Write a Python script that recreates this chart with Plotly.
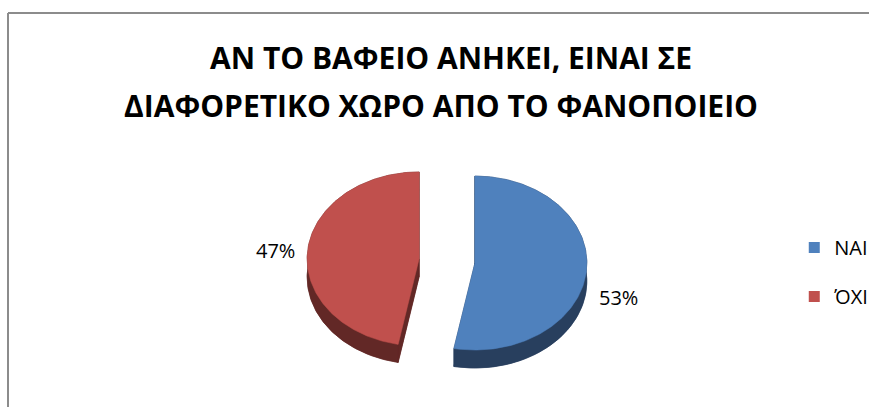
import numpy as np
import plotly.graph_objects as go

# ---- data ----
categories = ["ΝΑΙ", "ΌΧΙ"]
values = [53, 47]
percent_labels = ["53%", "47%"]
title_lines = ["ΑΝ ΤΟ ΒΑΦΕΙΟ ΑΝΗΚΕΙ, ΕΙΝΑΙ ΣΕ", "ΔΙΑΦΟΡΕΤΙΚΟ ΧΩΡΟ ΑΠΟ ΤΟ ΦΑΝΟΠΟΙΕΙΟ"]

# ---- styling ----
face_colors = ["#4F81BD", "#C0504D"]
wall_colors = ["#283F5E", "#622826"]
W, H = 869, 407
FONT = "Open Sans"

# ---- 3D pie geometry (axis units == pixels) ----
cx, cy = 447.0, 261.0      # pie centre
rx, ry = 112.0, 87.0       # ellipse radii of the top face
depth = 18.0               # extrusion height
explode = 28.0             # pull-out distance of each slice
label_rx, label_ry, label_dy = 144.0, 230.0, 13.0


def ell(theta, ox, oy):
    # theta in radians, clockwise from 12 o'clock; y grows downwards
    return ox + rx * np.sin(theta), oy - ry * np.cos(theta)


def poly(xs, ys, color, name=None, legend=False):
    return go.Scatter(x=list(xs), y=list(ys), mode="lines", fill="toself",
                      fillcolor=color, line=dict(color=color, width=0.5),
                      name=name, hoverinfo="skip" if name is None else "name",
                      showlegend=legend)


fig = go.Figure()

total = float(sum(values))
start = 0.0
slices = []
for i, v in enumerate(values):
    span = 2 * np.pi * v / total
    t0, t1 = start, start + span
    mid = (t0 + t1) / 2
    ox = cx + explode * np.sin(mid)
    oy = cy - explode * np.cos(mid) * ry / rx
    th = np.linspace(t0, t1, max(int(np.degrees(span)), 8) + 1)
    ax, ay = ell(th, ox, oy)
    slices.append(dict(ox=ox, oy=oy, mid=mid, ax=ax, ay=ay))
    start = t1

# extruded body of each slice: bottom face, curved rim, two radial walls
for i, s in enumerate(slices):
    ox, oy, ax, ay = s["ox"], s["oy"], s["ax"], s["ay"]
    c = wall_colors[i]
    fig.add_trace(poly(np.r_[ox, ax, ox], np.r_[oy, ay, oy] + depth, c))
    fig.add_trace(poly(np.r_[ax, ax[::-1], ax[0]],
                       np.r_[ay, ay[::-1] + depth, ay[0]], c))
    for k in (0, -1):
        fig.add_trace(poly([ox, ax[k], ax[k], ox, ox],
                           [oy, ay[k], ay[k] + depth, oy + depth, oy], c))

# top faces
for i, s in enumerate(slices):
    fig.add_trace(poly(np.r_[s["ox"], s["ax"], s["ox"]],
                       np.r_[s["oy"], s["ay"], s["oy"]],
                       face_colors[i], name=categories[i]))

# legend entries
for i, c in enumerate(categories):
    fig.add_trace(go.Scatter(
        x=[None], y=[None], mode="markers", name=c, legendgroup=c,
        marker=dict(symbol="square", size=11, color=face_colors[i])))

# percentage labels
for i, s in enumerate(slices):
    fig.add_annotation(
        x=s["ox"] + label_rx * np.sin(s["mid"]),
        y=s["oy"] - label_ry * np.cos(s["mid"]) + label_dy,
        text=percent_labels[i], showarrow=False,
        xanchor="center", yanchor="middle",
        font=dict(family=FONT, size=20, color="#000000"))

# title, two lines
for line, (tx, ty) in zip(title_lines, [(451, 57), (441, 105)]):
    fig.add_annotation(
        x=tx, y=ty, text="<b>" + line + "</b>", showarrow=False,
        xanchor="center", yanchor="middle",
        font=dict(family=FONT, size=30, color="#000000"))

# chart frame (top and left edges)
frame = dict(color="#8C8C8C", width=2)
fig.add_shape(type="line", x0=8, y0=13, x1=W + 5, y1=13, line=frame, layer="below")
fig.add_shape(type="line", x0=8, y0=13, x1=8, y1=H + 5, line=frame, layer="below")

fig.update_layout(
    width=W, height=H,
    margin=dict(l=0, r=0, t=0, b=0, autoexpand=False),
    paper_bgcolor="white", plot_bgcolor="white",
    xaxis=dict(range=[0, W], visible=False, fixedrange=True),
    yaxis=dict(range=[H, 0], visible=False, fixedrange=True),
    legend=dict(x=0.914, y=0.44, xanchor="left", yanchor="top",
                traceorder="grouped", tracegroupgap=20,
                font=dict(family=FONT, size=20, color="#000000"),
                bgcolor="rgba(0,0,0,0)"),
    showlegend=True,
)

fig.write_html("out.html", config={"displayModeBar": False})
